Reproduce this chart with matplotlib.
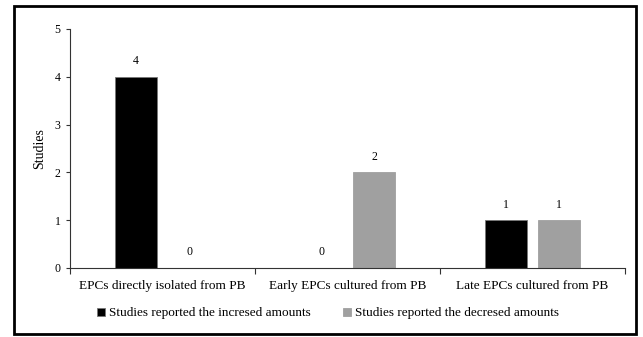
import numpy as np
import matplotlib.pyplot as plt
from matplotlib.patches import Rectangle

# data
categories = ["EPCs directly isolated from PB", "Early EPCs cultured from PB", "Late EPCs cultured from PB"]
increased = [4, 0, 1]
decreased = [0, 2, 1]
series_names = ["Studies reported the incresed amounts", "Studies reported the decresed amounts"]

plt.rcParams['font.family'] = ['Liberation Serif', 'DejaVu Serif']

fig = plt.figure(figsize=(6.43, 3.37), dpi=100)
ax = fig.add_axes([0.109, 0.205, 0.863, 0.709])

x = np.arange(len(categories))
w = 0.225
off = 0.143
b1 = ax.bar(x - off, increased, w, color='black', edgecolor='#777777', linewidth=0.6, label=series_names[0])
b2 = ax.bar(x + off, decreased, w, color='#a0a0a0', edgecolor='#a0a0a0', linewidth=0.6, label=series_names[1])

for bars, vals in ((b1, increased), (b2, decreased)):
    for r, v in zip(bars, vals):
        ax.text(r.get_x() + r.get_width() / 2, v + 0.2, str(v), ha='center', va='bottom', fontsize=8.5)

ax.set_xlim(-0.5, len(categories) - 0.5)
ax.set_ylim(0, 5)
ax.set_yticks(range(6))
ax.set_xticks(np.arange(len(categories) + 1) - 0.5)
ax.set_xticklabels([])
ax.set_xticks(x, minor=True)
ax.set_xticklabels(categories, minor=True, fontsize=9.5)
ax.tick_params(axis='x', which='minor', length=0, pad=9)
ax.tick_params(axis='x', which='major', length=4, color='#333333')
ax.tick_params(axis='y', length=3, labelsize=8.5, color='#333333', pad=4)
ax.spines['top'].set_visible(False)
ax.spines['right'].set_visible(False)
ax.spines['left'].set_color('#333333')
ax.spines['bottom'].set_color('#333333')
ax.set_ylabel('Studies', fontsize=10, labelpad=6)

fig.legend(handles=[b1, b2], loc='center', bbox_to_anchor=(0.51, 0.07), ncol=2, frameon=False,
           fontsize=9.5, handlelength=0.6, handleheight=0.6, handletextpad=0.3, columnspacing=2.5)

fig.add_artist(Rectangle((0.021, 0.008), 0.968, 0.975, transform=fig.transFigure,
                         fill=False, edgecolor='black', linewidth=2))

fig.savefig('out.png', dpi=100)
